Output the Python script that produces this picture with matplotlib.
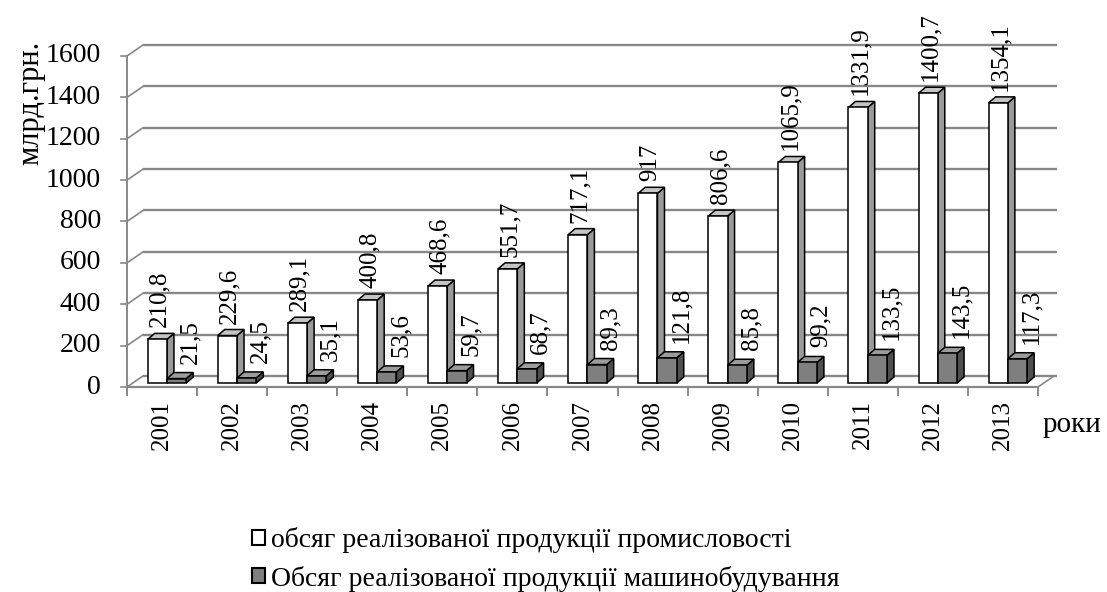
import matplotlib.pyplot as plt
from matplotlib.patches import Patch

plt.rcParams['font.family'] = ['Liberation Serif', 'DejaVu Serif']

years = ["2001", "2002", "2003", "2004", "2005", "2006", "2007",
         "2008", "2009", "2010", "2011", "2012", "2013"]
industry = [210.8, 229.6, 289.1, 400.8, 468.6, 551.7, 717.1,
            917.0, 806.6, 1065.9, 1331.9, 1400.7, 1354.1]
machinery = [21.5, 24.5, 35.1, 53.6, 59.7, 68.7, 89.3,
             121.8, 85.8, 99.2, 133.5, 143.5, 117.3]
industry_labels = ["210,8", "229,6", "289,1", "400,8", "468,6", "551,7", "717,1",
                   "917", "806,6", "1065,9", "1331,9", "1400,7", "1354,1"]
machinery_labels = ["21,5", "24,5", "35,1", "53,6", "59,7", "68,7", "89,3",
                    "121,8", "85,8", "99,2", "133,5", "143,5", "117,3"]
y_ticks = [0, 200, 400, 600, 800, 1000, 1200, 1400, 1600]
legend_labels = ["обсяг реалізованої продукції промисловості",
                 "Обсяг реалізованої продукції машинобудування"]

W, H = 1107, 592
fig = plt.figure(figsize=(W / 100, H / 100), dpi=100)

# axes box in pixels: left, right, top, bottom
L, R, T, B = 127, 1060, 40, 387
ax = fig.add_axes([L / W, 1 - B / H, (R - L) / W, (B - T) / H])
PX_X = (1038 - 127) / len(years)   # pixels per category
PX_Y = 331 / 1600                   # pixels per value unit
ax.set_xlim(0, (R - L) / PX_X)
ax.set_ylim(0, (B - T) / PX_Y)
ax.axis("off")

# pseudo-3d depth offsets (wall and bars)
WDX, WDY = 16 / PX_X, 11 / PX_Y
BDX, BDY = 7 / PX_X, 6 / PX_Y
BASE = 4 / PX_Y        # columns stand a little inside the floor
n = len(years)
x_back_end = (1057 - L) / PX_X
grid_c = "#888888"

# back wall gridlines + short diagonals on the side wall
for v in y_ticks:
    ax.plot([WDX, x_back_end], [v + WDY, v + WDY], color=grid_c, lw=1.7,
            zorder=1, clip_on=False, solid_capstyle="butt")
    ax.plot([0, WDX], [v, v + WDY], color=grid_c, lw=1.2, zorder=1, clip_on=False)
    ax.plot([-6 / PX_X, 0], [v, v], color=grid_c, lw=1.2, zorder=1, clip_on=False)
    ax.text(-26 / PX_X, v, f"{v}", ha="right", va="center", fontsize=20)

# floor and axes
ax.plot([0, 0], [0, 1600], color=grid_c, lw=1.4, zorder=1, clip_on=False)
ax.plot([0, n], [0, 0], color=grid_c, lw=1.6, zorder=1, clip_on=False)
ax.plot([n, n + WDX], [0, WDY], color=grid_c, lw=1.2, zorder=1, clip_on=False)
for k in range(n + 1):
    ax.plot([k, k], [0, -8 / PX_Y], color=grid_c, lw=1.4, zorder=1, clip_on=False)


def box3d(x0, w, v, front, side, top, z):
    y0, y1 = BASE, BASE + v
    ax.fill([x0 + w, x0 + w + BDX, x0 + w + BDX, x0 + w],
            [y0, y0 + BDY, y1 + BDY, y1], facecolor=side, edgecolor="black",
            lw=1.1, zorder=z)
    ax.fill([x0, x0 + w, x0 + w + BDX, x0 + BDX],
            [y1, y1, y1 + BDY, y1 + BDY], facecolor=top, edgecolor="black",
            lw=1.1, zorder=z)
    ax.bar(x0, v, width=w, bottom=y0, align="edge", facecolor=front,
           edgecolor="black", lw=1.1, zorder=z + 0.01)


bw = 0.275
for i in range(n):
    x_w = i + 0.295
    x_d = x_w + bw
    box3d(x_w, bw, industry[i], "white", "#9a9a9a", "#c4c4c4", 3 + i * 0.1)
    box3d(x_d, bw, machinery[i], "#7f7f7f", "#4f4f4f", "#9c9c9c", 3.05 + i * 0.1)
    ax.text(x_w + bw / 2 + 0.03, BASE + industry[i] + 12 / PX_Y, industry_labels[i],
            rotation=90, ha="center", va="bottom", fontsize=18, zorder=10)
    ax.text(x_d + bw + 0.06, BASE + machinery[i] + 15 / PX_Y, machinery_labels[i],
            rotation=90, ha="center", va="bottom", fontsize=18, zorder=10)
    ax.text(i + 0.5, -13 / PX_Y, years[i], rotation=90, ha="center",
            va="top", fontsize=18)

fig.text(31 / W, 1 - 103 / H, "млрд.грн.", rotation=90, ha="center",
         va="center", fontsize=22)
fig.text(1072 / W, 1 - 425 / H, "роки", ha="center", va="center", fontsize=21)

handles = [Patch(facecolor="white", edgecolor="black", lw=1.5),
           Patch(facecolor="#7f7f7f", edgecolor="black", lw=1.5)]
fig.legend(handles, legend_labels, loc="upper left",
           bbox_to_anchor=(252 / W, 1 - 527 / H), frameon=False, fontsize=20,
           handlelength=0.45, handleheight=0.45, handletextpad=0.25,
           labelspacing=0.45, borderaxespad=0, borderpad=0)

fig.savefig("out.png", dpi=100, facecolor="white")
